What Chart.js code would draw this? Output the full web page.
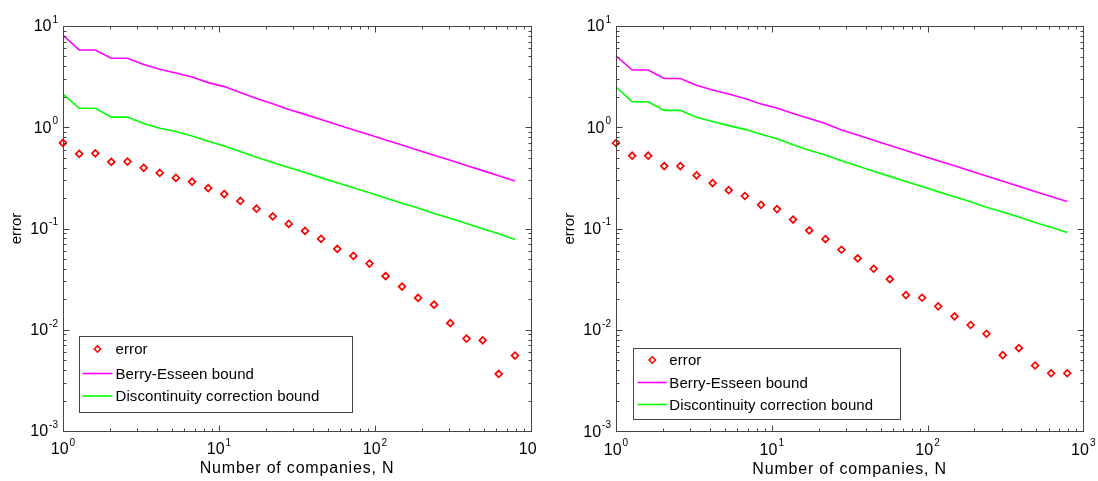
<!DOCTYPE html>
<html>
<head>
<meta charset="utf-8">
<script src="https://cdn.jsdelivr.net/npm/chart.js@4.4.0/dist/chart.umd.min.js"></script>
<style>
html,body{margin:0;padding:0;background:#fff;width:1098px;height:481px;overflow:hidden;}
canvas{position:absolute;top:0;}
#c1{left:0;z-index:1;}
#c2{left:538px;z-index:2;}
</style>
</head>
<body>
<canvas id="c1" width="538" height="481"></canvas>
<canvas id="c2" width="560" height="481"></canvas>
<script>
// ---- data ----
const nValues = [1, 1.27, 1.61, 2.04, 2.59, 3.29, 4.17, 5.29, 6.72, 8.53, 10.8, 13.7, 17.4, 22.1, 28.0, 35.6, 45.1, 57.3, 72.7, 92.2, 117, 149, 189, 239, 304, 386, 490, 621, 789];

const leftError = [0.70,0.545,0.553,0.454,0.458,0.397,0.354,0.316,0.290,0.250,0.219,0.187,0.157,0.132,0.111,0.0946,0.079,0.0628,0.0536,0.0450,0.0338,0.0267,0.0206,0.0177,0.0116,0.00818,0.00787,0.00366,0.00556];
const leftBerry = [8.1,5.8,5.8,4.8,4.8,4.16,3.74,3.44,3.14,2.76,2.52,2.2,1.92,1.71,1.5,1.34,1.19,1.06,0.947,0.843,0.75,0.667,0.594,0.529,0.471,0.419,0.373,0.332,0.295];
const leftDisc = [2.12,1.54,1.54,1.26,1.26,1.09,0.977,0.906,0.82,0.727,0.654,0.575,0.506,0.448,0.4,0.358,0.318,0.283,0.253,0.225,0.2,0.178,0.159,0.141,0.126,0.112,0.0996,0.0886,0.078];

const rightError = [0.70,0.525,0.525,0.415,0.415,0.336,0.282,0.240,0.210,0.172,0.156,0.123,0.096,0.079,0.0619,0.0508,0.0402,0.0317,0.0221,0.0208,0.0171,0.0136,0.0112,0.00918,0.00564,0.00662,0.00446,0.00374,0.00374];
const rightBerry = [5.06,3.68,3.68,3.03,3.03,2.6,2.34,2.13,1.93,1.70,1.55,1.37,1.22,1.09,0.94,0.838,0.745,0.662,0.59,0.525,0.468,0.417,0.371,0.33,0.294,0.262,0.233,0.208,0.185];
const rightDisc = [2.5,1.79,1.79,1.47,1.47,1.26,1.14,1.04,0.955,0.853,0.773,0.674,0.593,0.533,0.469,0.415,0.369,0.328,0.292,0.26,0.232,0.206,0.184,0.163,0.146,0.13,0.115,0.103,0.0916];

const xExponents = [0, 1, 2, 3];
const yExponents = [-3, -2, -1, 0, 1];
const seriesLabels = ['error', 'Berry-Esseen bound', 'Discontinuity correction bound'];
const xTitle = 'Number of companies, N';
const yTitle = 'error';

// ---- drawing helpers ----
const FONT = '"Liberation Sans", Arial, Helvetica, sans-serif';
const AXIS_COLOR = '#444';

function pts(ys) { return ys.map((y, i) => ({x: nValues[i], y: y})); }

function drawPow(ctx, x, y, exp, align) {
  ctx.save();
  ctx.textBaseline = 'middle';
  ctx.font = '16px ' + FONT;
  const base = '10';
  const wb = ctx.measureText(base).width;
  ctx.font = '10px ' + FONT;
  const es = String(exp);
  const we = ctx.measureText(es).width;
  let x0;
  if (align === 'right') x0 = x - wb - we - 1;
  else x0 = x - (wb + we + 1) / 2;
  ctx.fillStyle = '#000';
  ctx.font = '16px ' + FONT;
  ctx.textAlign = 'left';
  ctx.fillText(base, x0, y);
  ctx.font = '10px ' + FONT;
  ctx.fillText(es, x0 + wb + 1, y - 7);
  ctx.restore();
}

const frame = {
  id: 'frame',
  beforeDraw(chart) {
    const ctx = chart.ctx;
    ctx.save();
    ctx.fillStyle = '#fff';
    ctx.fillRect(0, 0, chart.width, chart.height);
    ctx.restore();
  },
  afterDatasetsDraw(chart, args, opts) {
    const ctx = chart.ctx;
    const a = chart.chartArea;
    const xs = chart.scales.x, ys = chart.scales.y;
    ctx.save();
    ctx.strokeStyle = AXIS_COLOR;
    ctx.lineWidth = 1;
    const L = Math.round(a.left) + 0.5, R = Math.round(a.right) + 0.5;
    const T = Math.round(a.top) + 0.5, B = Math.round(a.bottom) + 0.5;
    ctx.strokeRect(L, T, R - L, B - T);
    ctx.beginPath();
    for (let e = 0; e < 3; e++) {
      for (let m = 1; m <= 9; m++) {
        const v = m * Math.pow(10, e);
        const px = Math.round(xs.getPixelForValue(v)) + 0.5;
        const len = m === 1 ? 6 : 3;
        ctx.moveTo(px, B); ctx.lineTo(px, B - len);
        ctx.moveTo(px, T); ctx.lineTo(px, T + len);
      }
    }
    for (let e = -3; e < 1; e++) {
      for (let m = 1; m <= 9; m++) {
        const v = m * Math.pow(10, e);
        const py = Math.round(ys.getPixelForValue(v)) + 0.5;
        const len = m === 1 ? 6 : 3;
        ctx.moveTo(L, py); ctx.lineTo(L + len, py);
        ctx.moveTo(R, py); ctx.lineTo(R - len, py);
      }
    }
    ctx.stroke();
    ctx.restore();

    yExponents.forEach(e => drawPow(ctx, a.left - 5, ys.getPixelForValue(Math.pow(10, e)) + 1, e, 'right'));
    xExponents.forEach(e => drawPow(ctx, xs.getPixelForValue(Math.pow(10, e)), a.bottom + 19, e, 'center'));

    ctx.save();
    ctx.fillStyle = '#000';
    ctx.font = '16px ' + FONT;
    ctx.textAlign = 'center';
    ctx.textBaseline = 'middle';
    try { ctx.letterSpacing = '0.8px'; } catch (e) {}
    ctx.fillText(xTitle, (a.left + a.right) / 2, a.bottom + 38);
    try { ctx.letterSpacing = '0px'; } catch (e) {}
    ctx.translate(a.left - 46, (a.top + a.bottom) / 2);
    ctx.rotate(-Math.PI / 2);
    ctx.font = '15px ' + FONT;
    ctx.fillText(yTitle, 0, 0);
    ctx.restore();

    const lg = opts.legendBox;
    ctx.save();
    ctx.fillStyle = '#fff';
    ctx.fillRect(lg.x, lg.y, lg.w, lg.h);
    ctx.strokeStyle = AXIS_COLOR;
    ctx.lineWidth = 1;
    ctx.strokeRect(Math.round(lg.x) + 0.5, Math.round(lg.y) + 0.5, Math.round(lg.w), Math.round(lg.h));
    ctx.font = '15px ' + FONT;
    ctx.textBaseline = 'middle';
    ctx.textAlign = 'left';
    try { ctx.letterSpacing = '0.1px'; } catch (e) {}
    chart.data.datasets.forEach((ds, i) => {
      const ry = lg.y + lg.rows[i];
      if (i === 0) {
        const cx = lg.x + lg.markX, r = 3.2;
        ctx.beginPath();
        ctx.moveTo(cx, ry - r); ctx.lineTo(cx + r, ry); ctx.lineTo(cx, ry + r); ctx.lineTo(cx - r, ry); ctx.closePath();
        ctx.fillStyle = '#fff'; ctx.fill();
        ctx.strokeStyle = ds.borderColor; ctx.lineWidth = 1.6; ctx.stroke();
      } else {
        ctx.beginPath();
        ctx.moveTo(lg.x + lg.lineX0, ry); ctx.lineTo(lg.x + lg.lineX1, ry);
        ctx.strokeStyle = ds.borderColor; ctx.lineWidth = 1.6; ctx.stroke();
      }
      ctx.fillStyle = '#000';
      ctx.fillText(ds.label, lg.x + lg.textX, ry + 1);
    });
    ctx.restore();
  }
};

function makeChart(id, err, berry, disc, padding, legendBox) {
  return new Chart(document.getElementById(id), {
    type: 'scatter',
    data: {
      datasets: [
        {label: seriesLabels[0], data: pts(err), showLine: false, pointStyle: 'rectRot', pointRadius: 3.4,
         pointBorderWidth: 1.7, borderColor: '#ff0000', pointBorderColor: '#ff0000', pointBackgroundColor: '#ffffff', clip: false, order: 0},
        {label: seriesLabels[1], data: pts(berry), showLine: true, pointRadius: 0, borderColor: '#ff00ff', borderWidth: 1.6, clip: false, order: 1},
        {label: seriesLabels[2], data: pts(disc), showLine: true, pointRadius: 0, borderColor: '#00ff00', borderWidth: 1.6, clip: false, order: 2}
      ]
    },
    options: {
      responsive: false,
      animation: false,
      devicePixelRatio: 1,
      layout: {padding: padding},
      scales: {
        x: {type: 'logarithmic', min: 1, max: 1000, display: false},
        y: {type: 'logarithmic', min: 0.001, max: 10, display: false}
      },
      plugins: {
        legend: {display: false},
        tooltip: {enabled: false},
        frame: {legendBox: legendBox}
      }
    },
    plugins: [frame]
  });
}

makeChart('c1', leftError, leftBerry, leftDisc,
  {left: 63, right: 7, top: 26, bottom: 50},
  {x: 78.5, y: 336, w: 273, h: 76, rows: [13, 37.5, 60], markX: 19, lineX0: 4, lineX1: 34, textX: 37});
makeChart('c2', rightError, rightBerry, rightDisc,
  {left: 78, right: 14.7, top: 26, bottom: 49.7},
  {x: 95, y: 347.5, w: 267, h: 71, rows: [12.5, 35, 57], markX: 19.3, lineX0: 4.7, lineX1: 33.7, textX: 36.3});
</script>
</body>
</html>
